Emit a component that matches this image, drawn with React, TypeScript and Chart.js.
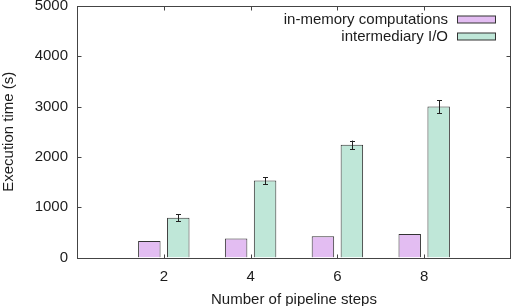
import React, { useEffect, useRef } from "react";
import { Chart, registerables } from "chart.js";

Chart.register(...registerables);

// Number of pipeline steps and measured execution times (seconds)
const steps = [2, 4, 6, 8];
const inMemory = [330, 380, 420, 465];
const intermediaryIO = [790, 1530, 2240, 3000];
const intermediaryIOErr = [65, 70, 85, 130];
const yTicks = [0, 1000, 2000, 3000, 4000, 5000];

const seriesNames = ["in-memory computations", "intermediary I/O"];
const fills = ["#e3bdf2", "#bfe7d8"];
const edge = "#333333";
const textColor = "#1c1c1c";
const fontFamily = "'Liberation Sans', Arial, Helvetica, sans-serif";

const W = 519;
const H = 322;

// Plot frame with inward (mirrored) tick marks, error bars and a gnuplot-style key.
const decorations = {
  id: "decorations",
  afterDatasetsDraw(chart: any) {
    const { ctx, chartArea, scales } = chart;
    const { left, right, top, bottom } = chartArea;
    const x = scales.x;
    const y = scales.y;
    ctx.save();

    // error bars on the intermediary I/O bars
    const meta = chart.getDatasetMeta(1);
    ctx.strokeStyle = "#222";
    ctx.lineWidth = 1;
    meta.data.forEach((bar: any, i: number) => {
      const cx = Math.round(bar.x) + 0.5;
      const y1 = y.getPixelForValue(intermediaryIO[i] + intermediaryIOErr[i]);
      const y2 = y.getPixelForValue(intermediaryIO[i] - intermediaryIOErr[i]);
      ctx.beginPath();
      ctx.moveTo(cx, y1);
      ctx.lineTo(cx, y2);
      ctx.moveTo(cx - 2.5, Math.round(y1) + 0.5);
      ctx.lineTo(cx + 2.5, Math.round(y1) + 0.5);
      ctx.moveTo(cx - 2.5, Math.round(y2) + 0.5);
      ctx.lineTo(cx + 2.5, Math.round(y2) + 0.5);
      ctx.stroke();
    });

    // frame
    ctx.strokeStyle = "#444";
    ctx.lineWidth = 1;
    const l = Math.round(left) + 0.5;
    const r = Math.round(right) - 0.5;
    const t = Math.round(top) + 0.5;
    const b = Math.round(bottom) + 0.5;
    ctx.strokeRect(l, t, r - l, b - t);

    // inward ticks
    const tl = 4;
    ctx.beginPath();
    yTicks.forEach((v) => {
      const py = Math.round(y.getPixelForValue(v)) + 0.5;
      ctx.moveTo(l, py);
      ctx.lineTo(l + tl, py);
      ctx.moveTo(r, py);
      ctx.lineTo(r - tl, py);
    });
    steps.forEach((v) => {
      const px = Math.round(x.getPixelForValue(v)) + 0.5;
      ctx.moveTo(px, b);
      ctx.lineTo(px, b - tl);
      ctx.moveTo(px, t);
      ctx.lineTo(px, t + tl);
    });
    ctx.stroke();

    // key, top right: label then sample box
    ctx.font = `15px ${fontFamily}`;
    ctx.textAlign = "right";
    ctx.textBaseline = "middle";
    const rowY = [19.5, 36.5];
    seriesNames.forEach((name, i) => {
      ctx.fillStyle = textColor;
      ctx.fillText(name, 448, rowY[i]);
      ctx.fillStyle = fills[i];
      ctx.fillRect(457.5, rowY[i] - 3.5, 38, 7);
      ctx.strokeStyle = edge;
      ctx.strokeRect(457.5, rowY[i] - 3.5, 38, 7);
    });

    ctx.restore();
  },
};

export default function App() {
  const ref = useRef<HTMLCanvasElement | null>(null);

  useEffect(() => {
    if (!ref.current) return;
    const chart = new Chart(ref.current, {
      type: "bar",
      data: {
        datasets: [
          {
            label: seriesNames[0],
            data: steps.map((s, i) => ({ x: s, y: inMemory[i] })),
            backgroundColor: fills[0],
            borderColor: edge,
            borderWidth: 1,
          },
          {
            label: seriesNames[1],
            data: steps.map((s, i) => ({ x: s, y: intermediaryIO[i] })),
            backgroundColor: fills[1],
            borderColor: edge,
            borderWidth: 1,
          },
        ],
      },
      options: {
        responsive: false,
        animation: false,
        events: [],
        categoryPercentage: 0.667,
        barPercentage: 0.776,
        layout: { padding: { top: 6, right: 8, left: 0, bottom: 0 } },
        plugins: {
          legend: { display: false },
          tooltip: { enabled: false },
        },
        scales: {
          x: {
            type: "linear",
            min: 0,
            max: 10,
            offset: false,
            grid: { display: false, drawTicks: false },
            border: { display: false },
            afterBuildTicks: (scale: any) => {
              scale.ticks = steps.map((v) => ({ value: v }));
            },
            afterFit: (scale: any) => {
              scale.height = H - 257.5;
              scale.paddingLeft = 0;
              scale.paddingRight = 0;
            },
            ticks: {
              padding: 10,
              color: textColor,
              font: { family: fontFamily, size: 15 },
              callback: (v: any) => String(v),
            },
            title: {
              display: true,
              text: "Number of pipeline steps",
              color: textColor,
              font: { family: fontFamily, size: 15 },
              padding: { top: 0, bottom: 13 },
            },
          },
          y: {
            min: 0,
            max: 5000,
            grid: { display: false, drawTicks: false },
            border: { display: false },
            afterBuildTicks: (scale: any) => {
              scale.ticks = yTicks.map((v) => ({ value: v }));
            },
            afterFit: (scale: any) => {
              scale.width = 77;
              scale.paddingTop = 0;
              scale.paddingBottom = 0;
            },
            ticks: {
              padding: 9,
              color: textColor,
              font: { family: fontFamily, size: 15 },
              callback: (v: any) => String(v),
            },
            title: {
              display: true,
              text: "Execution time (s)",
              color: textColor,
              font: { family: fontFamily, size: 15 },
              padding: { top: 0, bottom: 0 },
            },
          },
        },
      },
      plugins: [decorations],
    });
    return () => chart.destroy();
  }, []);

  return (
    <div style={{ position: "fixed", left: 0, top: 0, width: W, height: H, background: "#fff" }}>
      <canvas ref={ref} width={W} height={H} style={{ display: "block" }} />
    </div>
  );
}
